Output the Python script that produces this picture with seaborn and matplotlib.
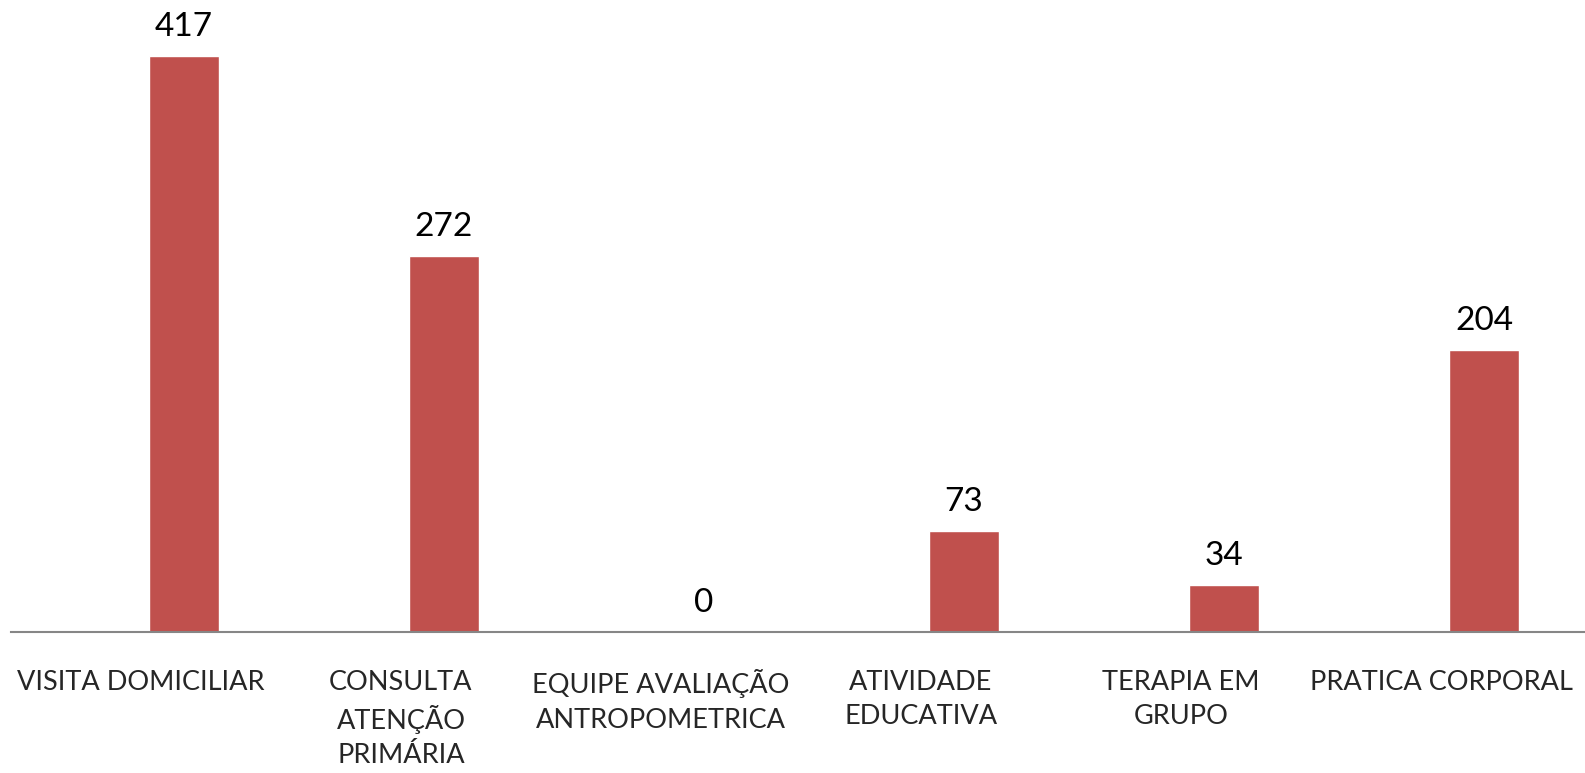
import matplotlib
matplotlib.use("Agg")
import matplotlib.pyplot as plt
import matplotlib.transforms as mtransforms
import seaborn as sns
import pandas as pd

categories = [
    "VISITA DOMICILIAR",
    "CONSULTA\nATENÇÃO\nPRIMÁRIA",
    "EQUIPE AVALIAÇÃO\nANTROPOMETRICA",
    "ATIVIDADE\nEDUCATIVA",
    "TERAPIA EM\nGRUPO",
    "PRATICA CORPORAL",
]
values = [417, 272, 0, 73, 34, 204]

df = pd.DataFrame({"categoria": categories, "total": values})

sns.set_style("white")
plt.rcParams["font.family"] = ["Lato", "DejaVu Sans"]

W, H = 1585, 773
fig = plt.figure(figsize=(W / 100, H / 100), dpi=100)
ax = fig.add_axes([11 / W, (H - 632) / H, (W - 11) / W, 632 / H])

sns.barplot(data=df, x="categoria", y="total", color="#C0504D",
            width=0.27, saturation=1, ax=ax)

ax.set_xlim(-0.665, 5.388)
ax.set_ylim(0, 457.6)

for i, v in enumerate(values):
    ax.annotate(f"{v}", (i, v), xytext=(0, 10), textcoords="offset points",
                ha="center", va="bottom", fontsize=24, color="black")

for s in ["top", "right", "left"]:
    ax.spines[s].set_visible(False)
ax.spines["bottom"].set_color("#868686")
ax.spines["bottom"].set_linewidth(1.5)
ax.set_yticks([])
ax.set_xlabel("")
ax.set_ylabel("")
ax.tick_params(axis="x", length=0, pad=27, labelsize=19.5)

# category labels sit a little left of their bars
shift = mtransforms.ScaledTranslation(-43 / 100, 0, fig.dpi_scale_trans)
for lbl in ax.get_xticklabels():
    lbl.set_linespacing(1.45)
    lbl.set_verticalalignment("top")
    lbl.set_transform(lbl.get_transform() + shift)

fig.savefig("out.png", dpi=100, facecolor="white")
